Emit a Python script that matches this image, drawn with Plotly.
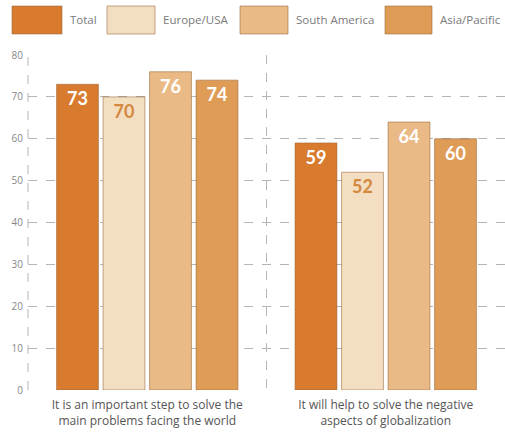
import plotly.graph_objects as go

# Survey answers (percent agreeing), by region
categories = [
    "It is an important step to solve the<br>main problems facing the world",
    "It will help to solve the negative<br>aspects of globalization",
]
series_names = ["Total", "Europe/USA", "South America", "Asia/Pacific"]
total = [73, 59]
europe_usa = [70, 52]
south_america = [76, 64]
asia_pacific = [74, 60]
y_ticks = [0, 10, 20, 30, 40, 50, 60, 70, 80]

series_values = [total, europe_usa, south_america, asia_pacific]
fill_colors = ["#D97B2F", "#F3DEC1", "#EABA86", "#DF9C57"]
label_colors = ["#FFFFFF", "#D4883E", "#FFFFFF", "#FFFFFF"]
edge_color = "rgba(150,100,55,0.55)"
grid_color = "#B5B5B5"
text_font = "'Open Sans', Lato, sans-serif"

W, H = 505, 433
M_L, M_R, M_T, M_B = 28, 0, 55, 43
plot_w = W - M_L - M_R
plot_h = H - M_T - M_B


def px_x(x):
    return (x - M_L) / plot_w


def px_y(y):
    return (H - M_B - y) / plot_h


fig = go.Figure()
for name, vals, col, tcol in zip(series_names, series_values, fill_colors, label_colors):
    fig.add_trace(go.Bar(
        name=name,
        x=categories,
        y=vals,
        marker=dict(color=col, line=dict(color=edge_color, width=1)),
        text=[str(v) for v in vals],
        textposition="inside",
        insidetextanchor="end",
        textangle=0,
        constraintext="none",
        textfont=dict(family="Lato, 'Open Sans', sans-serif", size=18, color=tcol, weight="bold"),
        showlegend=False,
    ))

# Dashed left edge of the plot area
fig.add_shape(type="line", xref="paper", yref="paper", x0=0, x1=0, y0=0, y1=1,
              line=dict(color=grid_color, width=1, dash="dash"), layer="below")

# Legend: wide swatches with labels along the top
legend_boxes = [(12, 62), (107, 155), (240, 288), (385, 432)]
for (x0, x1), name, col in zip(legend_boxes, series_names, fill_colors):
    fig.add_shape(type="rect", xref="paper", yref="paper",
                  x0=px_x(x0), x1=px_x(x1), y0=px_y(34), y1=px_y(6),
                  fillcolor=col, line=dict(color=edge_color, width=1))
    fig.add_annotation(xref="paper", yref="paper", x=px_x(x1 + 6), y=px_y(20),
                       text=name, showarrow=False, xanchor="left", yanchor="middle",
                       font=dict(family=text_font, size=11.5, color="#7A7A7A"))

fig.update_layout(
    width=W, height=H,
    margin=dict(l=M_L, r=M_R, t=M_T, b=M_B),
    paper_bgcolor="white", plot_bgcolor="white",
    barmode="group", bargap=0.22, bargroupgap=0.1,
    font=dict(family=text_font, color="#555555"),
)
fig.update_xaxes(
    tickson="boundaries", showgrid=True, gridcolor=grid_color, griddash="dash", gridwidth=1,
    ticks="", tickfont=dict(size=12, color="#555555"), showline=False, zeroline=False,
    ticklabelstandoff=6,
)
fig.update_yaxes(
    range=[0, 80], tickvals=y_ticks, showgrid=True, gridcolor=grid_color, griddash="dash",
    gridwidth=1, zeroline=False, showline=False, ticks="",
    tickfont=dict(size=10, color="#888888"), ticklabelstandoff=4,
)

fig.write_html("out.html")
